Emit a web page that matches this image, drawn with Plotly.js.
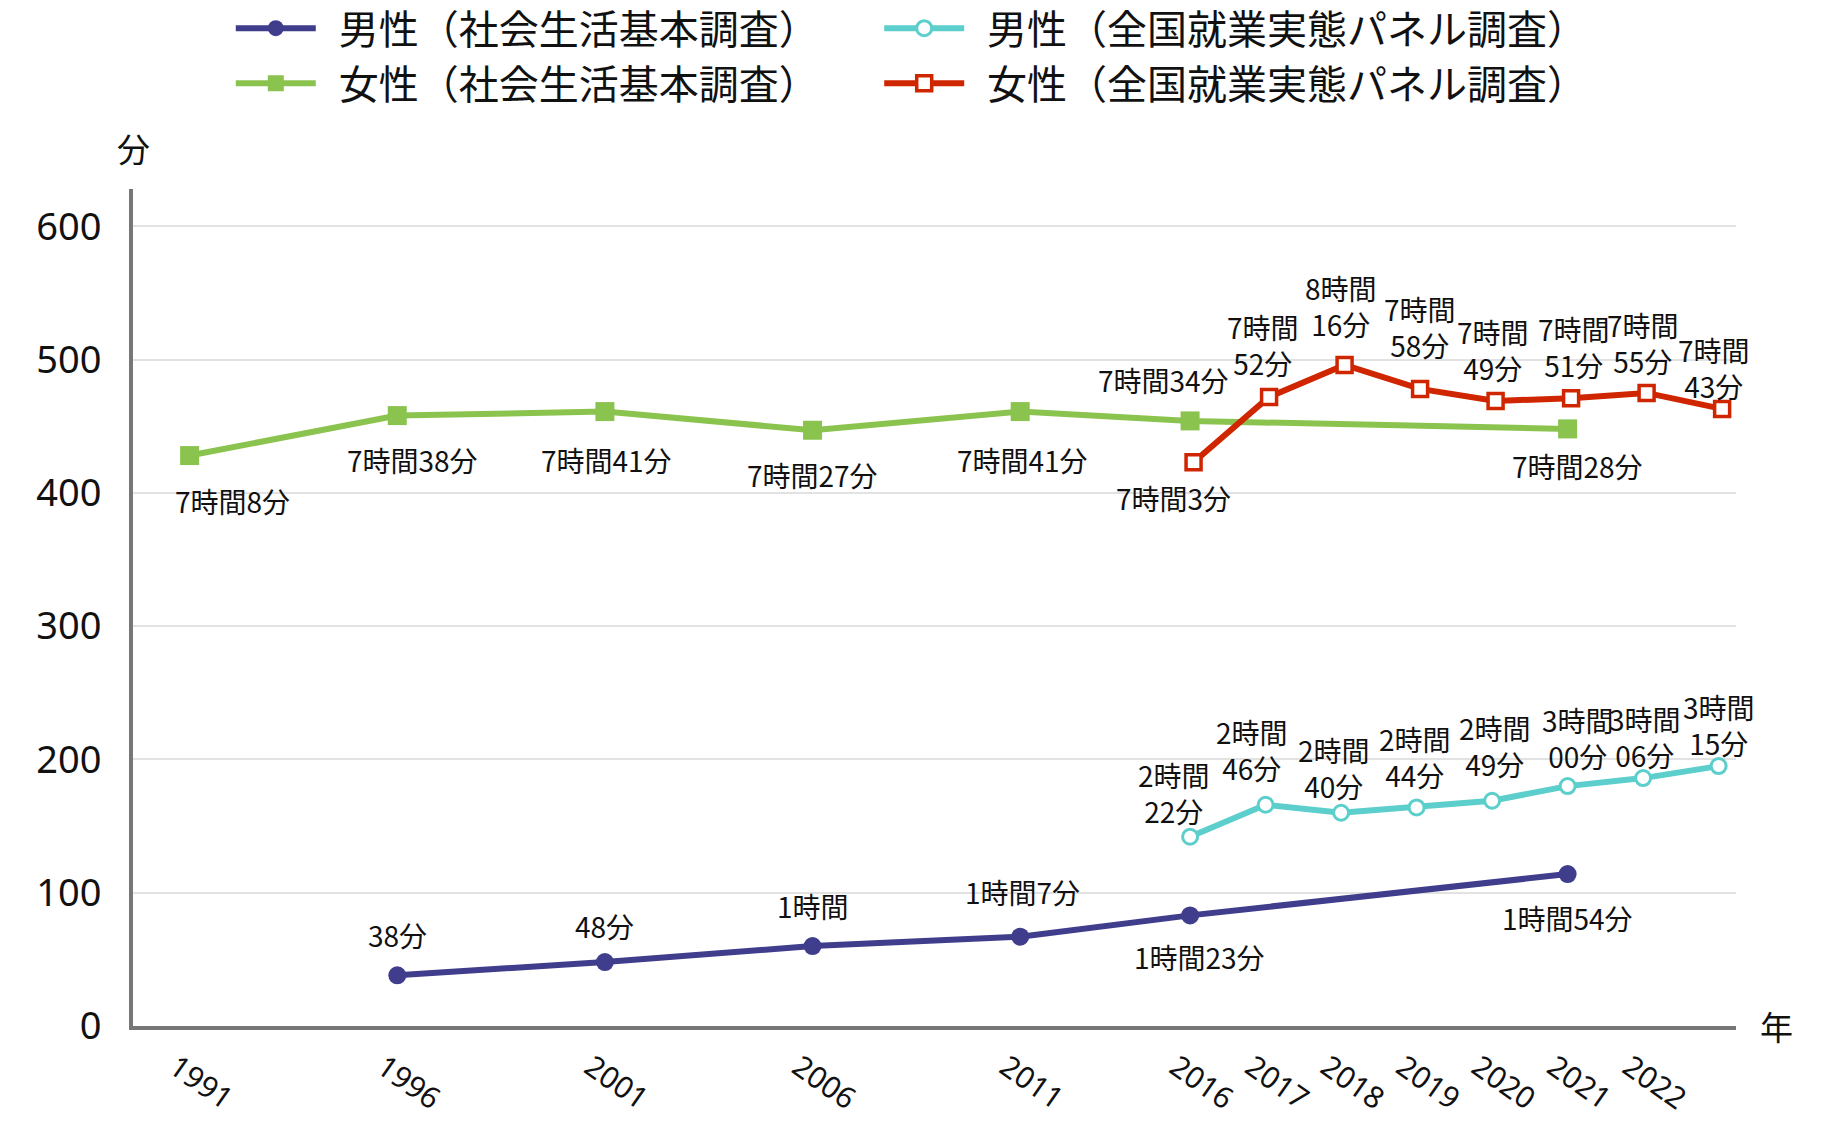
<!DOCTYPE html>
<html><head><meta charset="utf-8">
<script src="https://cdn.plot.ly/plotly-3.0.1.min.js"></script>
<style>html,body{margin:0;padding:0;background:#fff}</style>
</head><body><div id="chart" style="width:1822px;height:1124px"></div>
<script>
// ---------- data ----------
const tickYears = ["1991","1996","2001","2006","2011","2016","2017","2018","2019","2020","2021","2022"];

const maleLifeYears = ["1996","2001","2006","2011","2016","2021"];
const maleLifeMinutes = [38, 48, 60, 67, 83, 114];
const maleLifeLabels = ["38分","48分","1時間","1時間7分","1時間23分","1時間54分"];

const femaleLifeYears = ["1991","1996","2001","2006","2011","2016","2021"];
const femaleLifeMinutes = [428, 458, 461, 447, 461, 454, 448];
const femaleLifeLabels = ["7時間8分","7時間38分","7時間41分","7時間27分","7時間41分","7時間34分","7時間28分"];

const panelYears = ["2016","2017","2018","2019","2020","2021","2022","2023"];
const malePanelMinutes = [142, 166, 160, 164, 169, 180, 186, 195];
const malePanelLabels = ["2時間<br>22分","2時間<br>46分","2時間<br>40分","2時間<br>44分","2時間<br>49分","3時間<br>00分","3時間<br>06分","3時間<br>15分"];
const femalePanelMinutes = [423, 472, 496, 478, 469, 471, 475, 463];
const femalePanelLabels = ["7時間3分","7時間<br>52分","8時間<br>16分","7時間<br>58分","7時間<br>49分","7時間<br>51分","7時間<br>55分","7時間<br>43分"];

const seriesNames = ["男性（社会生活基本調査）","男性（全国就業実態パネル調査）","女性（社会生活基本調査）","女性（全国就業実態パネル調査）"];

// ---------- axis layout (uneven year spacing of the original) ----------
const yearSlot = {"1991":0,"1996":2.75,"2001":5.5,"2006":8.25,"2011":11,"2016":13.25,"2017":14.25,"2018":15.25,"2019":16.25,"2020":17.25,"2021":18.25,"2022":19.25,"2023":20.25};
const toX = ys => ys.map(y => yearSlot[y]);
const X_RANGE = [-0.75, 20.48];
const X2_SHIFT = -0.046; // the red series sits a few px to the right in the original

// label offsets in px [xshift, yshift]
const offMaleLife = [[0,40],[0,36],[0,40],[2,45],[9,-42],[0,-44]];
const offFemaleLife = [[43,-45],[15,-44],[2,-48],[0,-45],[2,-48],[-27,41],[10,-37]];
const offMalePanel = [[-16,44],[-14,55],[-7,45],[-2,50],[3,55],[10,48],[2,41],[0,41]];
const offFemalePanel = [[-20,-36],[-6,52],[-4,59],[0,62],[-3,51],[3,51],[-4,50],[-8,41]];

const C_PURPLE = "#3f3d8c", C_CYAN = "#5ccfcc", C_GREEN = "#8bc34f", C_RED = "#d02600";
const FONT = "'Noto Sans', 'Noto Sans CJK JP', sans-serif";
const JFONT = "'Noto Sans CJK JP', 'Noto Sans', sans-serif";
const GAP = "\u00a0\u00a0";

const traces = [
  {name: GAP + seriesNames[0], legend: "legend", x: toX(maleLifeYears), y: maleLifeMinutes, mode: "lines+markers",
   line: {color: C_PURPLE, width: 6}, marker: {symbol: "circle", size: 18, color: C_PURPLE}},
  {name: GAP + seriesNames[2], legend: "legend", x: toX(femaleLifeYears), y: femaleLifeMinutes, mode: "lines+markers",
   line: {color: C_GREEN, width: 6}, marker: {symbol: "square", size: 19, color: C_GREEN}},
  {name: GAP + seriesNames[1], legend: "legend2", x: toX(panelYears), y: malePanelMinutes, mode: "lines+markers",
   line: {color: C_CYAN, width: 6}, marker: {symbol: "circle", size: 15, color: "#ffffff", line: {color: C_CYAN, width: 3}}},
  {name: GAP + seriesNames[3], legend: "legend2", x: toX(panelYears), y: femalePanelMinutes, xaxis: "x2", mode: "lines+markers",
   line: {color: C_RED, width: 6}, marker: {symbol: "square", size: 15, color: "#ffffff", line: {color: C_RED, width: 3.5}}}
];

function labels(ys, vals, texts, offs, xref) {
  return ys.map((yr, i) => ({
    x: yearSlot[yr], y: vals[i], xref: xref || "x", yref: "y", text: texts[i], showarrow: false,
    xshift: offs[i][0], yshift: offs[i][1], font: {family: JFONT, size: 28, color: "#111"}
  }));
}

const annotations = [].concat(
  labels(maleLifeYears, maleLifeMinutes, maleLifeLabels, offMaleLife),
  labels(femaleLifeYears, femaleLifeMinutes, femaleLifeLabels, offFemaleLife),
  labels(panelYears, malePanelMinutes, malePanelLabels, offMalePanel),
  labels(panelYears, femalePanelMinutes, femalePanelLabels, offFemalePanel, "x2"),
  [
    {text: "分", xref: "paper", yref: "paper", x: 0, y: 1.049, showarrow: false, xanchor: "center", yanchor: "middle",
     font: {family: JFONT, size: 33, color: "#111"}},
    {text: "年", xref: "paper", yref: "paper", x: 1.025, y: 0, showarrow: false, xanchor: "center", yanchor: "middle",
     font: {family: JFONT, size: 33, color: "#111"}}
  ]
);

const legendBase = {orientation: "v", y: 1.231, yanchor: "top", xanchor: "left",
  font: {family: JFONT, size: 40, color: "#111"}, itemwidth: 80, tracegroupgap: 0, bgcolor: "rgba(0,0,0,0)"};

const layout = {
  width: 1822, height: 1124,
  margin: {l: 133, r: 86, t: 189, b: 98, autoexpand: false},
  paper_bgcolor: "#fff", plot_bgcolor: "#fff",
  showlegend: true,
  legend: Object.assign({}, legendBase, {x: 0.061}),
  legend2: Object.assign({}, legendBase, {x: 0.4655}),
  xaxis: {range: X_RANGE, tickvals: toX(tickYears), ticktext: tickYears, tickangle: 35,
    showgrid: false, zeroline: false, showline: true, linecolor: "#777", linewidth: 4, ticks: "",
    ticklabelstandoff: 8, ticklabelshift: -14, tickfont: {family: FONT, size: 30, color: "#111"}, fixedrange: true},
  xaxis2: {range: [X_RANGE[0] + X2_SHIFT, X_RANGE[1] + X2_SHIFT], overlaying: "x", visible: false, fixedrange: true},
  yaxis: {range: [0, 628], tickvals: [0,100,200,300,400,500,600], showgrid: true, gridcolor: "#e2e2e2", gridwidth: 2,
    zeroline: false, showline: true, linecolor: "#777", linewidth: 4, ticks: "", ticklabelstandoff: 20,
    tickfont: {family: FONT, size: 38, color: "#111"}, fixedrange: true},
  annotations: annotations
};

Plotly.newPlot("chart", traces, layout, {staticPlot: true, displayModeBar: false});
</script>
</body></html>
